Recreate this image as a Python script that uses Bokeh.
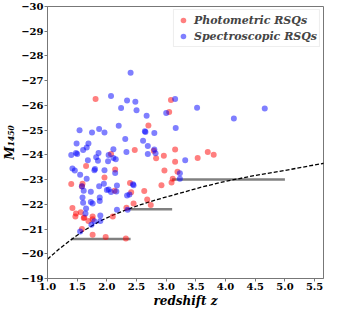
from bokeh.plotting import figure
from bokeh.models import Range1d, FixedTicker
from bokeh.embed import file_html
from bokeh.resources import INLINE

# Photometric RSQs (redshift, M1450)
phot_z = [1.81, 2.47, 2.07, 1.65, 2.14, 1.96, 1.40, 1.59, 2.39, 1.58, 2.41, 1.42,
          1.48, 1.47, 1.56, 1.62, 1.76, 1.76, 2.33, 1.58, 1.76, 1.98, 2.32, 3.08,
          3.05, 2.70, 2.79, 2.83, 2.96, 3.15, 3.15, 3.53, 3.70, 3.80, 2.97, 3.19,
          3.11, 2.13, 2.63, 2.92, 2.68, 2.74, 2.45, 2.10, 3.09, 1.69, 1.61]
phot_m = [-26.26, -24.20, -24.03, -23.55, -23.41, -23.08, -22.82, -22.83, -22.86, -22.72, -22.49, -21.85,
          -21.63, -21.51, -21.68, -21.47, -21.51, -21.40, -21.86, -21.00, -20.77, -20.68, -20.62, -26.22,
          -25.73, -25.19, -24.17, -23.86, -23.96, -24.22, -23.72, -23.87, -24.12, -24.00, -23.37, -23.32,
          -23.03, -22.55, -22.54, -22.77, -22.19, -21.97, -22.03, -21.51, -22.88, -21.33, -21.45]

# Spectroscopic RSQs (redshift, M1450)
spec_z = [2.40, 2.07, 2.34, 2.48, 2.24, 2.50, 2.20, 1.54, 1.87, 1.75, 1.96, 2.31,
          1.49, 1.69, 1.66, 1.60, 2.11, 1.48, 1.50, 1.40, 1.86, 2.33, 2.03, 1.82,
          2.11, 2.15, 1.68, 1.85, 2.02, 1.42, 1.46, 1.80, 1.79, 1.96, 2.14, 1.55,
          1.66, 1.95, 2.44, 2.17, 1.61, 1.58, 1.87, 2.03, 2.07, 1.73, 1.59, 1.88,
          2.38, 1.73, 1.76, 1.88, 1.60, 1.65, 1.64, 1.89, 1.89, 1.79, 1.74, 2.17,
          2.35, 1.55, 3.15, 3.52, 4.14, 2.67, 3.00, 2.64, 2.65, 2.80, 3.16, 2.61,
          2.69, 2.80, 2.82, 2.69, 3.32, 3.23, 3.23, 4.66, 2.34, 2.00, 2.16, 2.45]
spec_m = [-27.32, -26.38, -26.20, -26.15, -25.90, -25.80, -25.18, -25.00, -25.05, -24.90, -24.90, -24.64,
          -24.46, -24.46, -24.30, -24.20, -24.23, -24.08, -24.03, -23.99, -24.08, -24.12, -23.99, -23.90,
          -23.87, -23.82, -23.78, -23.76, -23.74, -23.45, -23.37, -23.43, -23.38, -23.38, -23.27, -23.20,
          -23.03, -22.83, -22.81, -22.76, -22.55, -22.73, -22.73, -22.60, -22.50, -22.51, -22.28, -22.28,
          -22.40, -22.09, -22.03, -22.13, -22.06, -21.83, -21.63, -21.55, -21.33, -21.32, -21.17, -21.78,
          -21.78, -20.90, -26.26, -25.91, -25.47, -25.58, -25.69, -24.96, -24.92, -24.88, -25.09, -24.57,
          -24.36, -24.22, -24.07, -24.03, -23.78, -23.26, -23.03, -25.87, -22.36, -22.58, -22.52, -22.77]

# magnitude-limit curve
lim_z = [1.0, 1.2, 1.41, 1.6, 1.89, 2.1, 2.33, 2.55, 2.8, 3.2, 3.6, 4.0, 4.5, 5.0, 5.7]
lim_m = [-19.78, -20.20, -20.59, -20.92, -21.33, -21.56, -21.78, -21.97, -22.16, -22.43, -22.70, -22.93, -23.17, -23.37, -23.68]

# completeness bins
bin_z0 = [1.4, 2.33, 3.1]
bin_z1 = [2.4, 3.1, 5.0]
bin_m = [-20.6, -21.8, -23.0]

x_ticks = [1.0, 1.5, 2.0, 2.5, 3.0, 3.5, 4.0, 4.5, 5.0, 5.5]
y_ticks = [-30, -29, -28, -27, -26, -25, -24, -23, -22, -21, -20, -19]

FONT = "DejaVu Serif"

p = figure(width=325, height=310, output_backend="svg", toolbar_location=None,
           x_range=Range1d(1.0, 5.65), y_range=Range1d(-19, -30))
p.min_border_top = 6
p.min_border_right = 2
p.min_border_left = 0
p.min_border_bottom = 0
p.xgrid.visible = False
p.ygrid.visible = False
p.outline_line_color = "#777777"
p.background_fill_color = "white"

for ax in (p.xaxis[0], p.yaxis[0]):
    ax.axis_line_color = "#777777"
    ax.major_tick_line_color = "#777777"
    ax.minor_tick_line_color = None
    ax.major_tick_in = 0
    ax.major_tick_out = 3
    ax.major_label_text_font = FONT
    ax.major_label_text_font_style = "bold"
    ax.major_label_text_font_size = "10px"
    ax.major_label_text_color = "black"
    ax.major_label_standoff = 1
    ax.axis_label_text_font = FONT
    ax.axis_label_text_font_style = "bold italic"
    ax.axis_label_text_font_size = "12px"
    ax.axis_label_text_color = "black"
    ax.axis_label_standoff = 1

p.xaxis.ticker = FixedTicker(ticks=x_ticks)
p.yaxis.ticker = FixedTicker(ticks=y_ticks)
p.xaxis.major_label_overrides = {t: f"{t:.1f}" for t in x_ticks}
p.yaxis.major_label_overrides = {t: "\u2212" + str(abs(t)) for t in y_ticks}
p.xaxis.axis_label = "redshift z"
p.yaxis.axis_label = "M\u2081\u2084\u2085\u2080"

p.segment(x0=bin_z0, y0=bin_m, x1=bin_z1, y1=bin_m, line_color="#808080", line_width=2.5)
p.line(lim_z, lim_m, line_color="black", line_width=1.3, line_dash="4 2")

p.scatter(phot_z, phot_m, size=6, color="red", alpha=0.5, line_color=None,
          legend_label="Photometric RSQs")
p.scatter(spec_z, spec_m, size=6, color="blue", alpha=0.5, line_color=None,
          legend_label="Spectroscopic RSQs")

lg = p.legend[0]
lg.location = "top_right"
lg.label_text_font = FONT
lg.label_text_font_style = "bold italic"
lg.label_text_font_size = "11px"
lg.label_height = 16
lg.glyph_height = 16
lg.glyph_width = 14
lg.spacing = 0
lg.padding = 2
lg.margin = 3
lg.label_standoff = 4
lg.border_line_color = "#dddddd"
lg.background_fill_alpha = 0.8

open("out.html", "w").write(file_html(p, INLINE))
